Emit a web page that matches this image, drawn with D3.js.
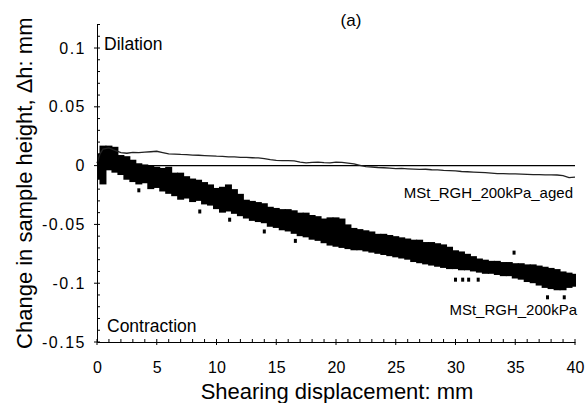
<!DOCTYPE html>
<html><head><meta charset="utf-8">
<script src="https://cdn.jsdelivr.net/npm/d3@7"></script>
<style>body{margin:0;background:#fff}svg{display:block;font-family:"Liberation Sans",Arial,sans-serif}</style>
</head><body>
<script>
// ---- data ----
const xTicks = [0,5,10,15,20,25,30,35,40];
const yTicks = [-0.15,-0.1,-0.05,0,0.05,0.1];
const yTickLabels = ["-0.15","-0.1","-0.05","0","0.05","0.1"];

// MSt_RGH_200kPa_aged (line)
const agedX = [0,0.25,0.5,1,1.5,2,2.5,3,3.5,4,4.5,5,5.5,6,6.5,7,7.5,8,8.5,9,9.5,10,10.5,11,11.5,12,12.5,13,13.5,14,14.5,15,15.5,16,16.5,17,17.5,18,18.5,19,19.5,20,20.5,21,21.5,22,22.5,23,23.5,24,24.5,25,25.5,26,26.5,27,27.5,28,28.5,29,29.5,30,30.5,31,31.5,32,32.5,33,33.5,34,34.5,35,35.5,36,36.5,37,37.5,38,38.5,39,39.5,40];
const agedY = [0.002,0.010,0.014,0.015,0.013,0.011,0.0105,0.0113,0.011,0.0115,0.0118,0.0122,0.011,0.0099,0.0098,0.0095,0.0094,0.009,0.0088,0.0085,0.0083,0.008,0.0079,0.0075,0.0074,0.007,0.007,0.0067,0.0065,0.006,0.005,0.0045,0.0043,0.0043,0.004,0.003,0.0023,0.0028,0.003,0.0025,0.0023,0.003,0.0028,0.0022,0.0015,0.0003,-0.0008,-0.0012,-0.0016,-0.0018,-0.0022,-0.0025,-0.0024,-0.0027,-0.003,-0.0032,-0.0031,-0.0035,-0.0036,-0.004,-0.0042,-0.0045,-0.005,-0.0052,-0.0055,-0.0058,-0.006,-0.0064,-0.0068,-0.0068,-0.007,-0.0071,-0.0073,-0.0075,-0.0076,-0.0077,-0.0079,-0.0078,-0.008,-0.0085,-0.0102,-0.0098];

// MSt_RGH_200kPa (dense scatter): band of points read as top / bottom per 0.5 mm
const bandX = [0,0.5,1,1.5,2,2.5,3,3.5,4,4.5,5,5.5,6,6.5,7,7.5,8,8.5,9,9.5,10,10.5,11,11.5,12,12.5,13,13.5,14,14.5,15,15.5,16,16.5,17,17.5,18,18.5,19,19.5,20,20.5,21,21.5,22,22.5,23,23.5,24,24.5,25,25.5,26,26.5,27,27.5,28,28.5,29,29.5,30,30.5,31,31.5,32,32.5,33,33.5,34,34.5,35,35.5,36,36.5,37,37.5,38,38.5,39,39.5,40];
const bandTop = [0.010,0.017,0.017,0.016,0.009,0.008,0.005,0.002,0.001,0.000,-0.001,-0.002,-0.001,-0.006,-0.006,-0.009,-0.011,-0.012,-0.014,-0.016,-0.019,-0.018,-0.016,-0.020,-0.024,-0.029,-0.030,-0.031,-0.032,-0.035,-0.036,-0.037,-0.037,-0.038,-0.040,-0.040,-0.042,-0.043,-0.045,-0.044,-0.044,-0.045,-0.050,-0.053,-0.054,-0.055,-0.056,-0.058,-0.058,-0.059,-0.060,-0.061,-0.062,-0.063,-0.063,-0.065,-0.065,-0.066,-0.067,-0.069,-0.072,-0.073,-0.075,-0.077,-0.079,-0.080,-0.081,-0.081,-0.082,-0.082,-0.083,-0.083,-0.084,-0.084,-0.085,-0.086,-0.087,-0.088,-0.090,-0.091,-0.092];
const bandBot = [-0.012,-0.016,-0.004,-0.006,-0.008,-0.012,-0.014,-0.016,-0.015,-0.020,-0.019,-0.022,-0.024,-0.026,-0.029,-0.028,-0.031,-0.030,-0.033,-0.034,-0.037,-0.040,-0.039,-0.041,-0.043,-0.045,-0.047,-0.048,-0.049,-0.052,-0.053,-0.055,-0.056,-0.058,-0.060,-0.061,-0.063,-0.064,-0.066,-0.068,-0.069,-0.070,-0.071,-0.072,-0.072,-0.073,-0.074,-0.075,-0.076,-0.077,-0.078,-0.079,-0.080,-0.082,-0.083,-0.084,-0.085,-0.086,-0.087,-0.088,-0.088,-0.089,-0.089,-0.090,-0.091,-0.092,-0.092,-0.093,-0.094,-0.094,-0.096,-0.097,-0.099,-0.100,-0.102,-0.104,-0.105,-0.106,-0.106,-0.104,-0.103];
const outX = [3.5,8.6,11.1,14.0,16.6,30.0,30.6,31.1,31.9,34.9,37.7,39.1];
const outY = [-0.021,-0.039,-0.046,-0.056,-0.064,-0.097,-0.097,-0.097,-0.097,-0.074,-0.112,-0.112];

const labels = {title:"(a)", xTitle:"Shearing displacement: mm", yTitle:"Change in sample height,  Δh: mm",
  dil:"Dilation", con:"Contraction", s1:"MSt_RGH_200kPa_aged", s2:"MSt_RGH_200kPa"};

// ---- chart ----
const W=586,H=403;
const svg=d3.select("body").append("svg").attr("width",W).attr("height",H);
const x=d3.scaleLinear().domain([0,40]).range([97,575]);
const y=d3.scaleLinear().domain([-0.15,0.12]).range([342,24.5]);

svg.append("defs").append("clipPath").attr("id","pc").append("rect")
  .attr("x",x(0)).attr("y",y(0.12)).attr("width",x(40)-x(0)+1).attr("height",y(-0.15)-y(0.12));

// zero line
svg.append("line").attr("x1",x(0)).attr("x2",x(40)).attr("y1",y(0)).attr("y2",y(0))
  .attr("stroke","#000").attr("stroke-width",1.1);

// scatter band
const g=svg.append("g").attr("clip-path","url(#pc)");
const colW=x(0.5)-x(0);
g.selectAll("rect.b").data(bandX.map((d,i)=>({x:d,t:bandTop[i],b:bandBot[i]}))).enter()
  .append("rect").attr("class","b")
  .attr("x",d=>x(d.x)-colW/2-0.5).attr("width",colW+1)
  .attr("y",d=>y(d.t)).attr("height",d=>y(d.b)-y(d.t)).attr("fill","#000");
g.selectAll("rect.o").data(outX.map((d,i)=>({x:d,y:outY[i]}))).enter()
  .append("rect").attr("class","o")
  .attr("x",d=>x(d.x)-1.5).attr("width",3).attr("y",d=>y(d.y)-2).attr("height",4).attr("fill","#000");

// aged line
svg.append("path").datum(agedX.map((d,i)=>[d,agedY[i]]))
  .attr("d",d3.line().x(d=>x(d[0])).y(d=>y(d[1])))
  .attr("fill","none").attr("stroke","#222").attr("stroke-width",1.3);

// axes
const yAx=d3.axisLeft(y).tickValues(yTicks).tickSize(0).tickFormat((d,i)=>yTickLabels[i]);
const ya=svg.append("g").attr("transform",`translate(${x(0)},0)`).call(yAx);
ya.select(".domain").attr("stroke","#000");
ya.selectAll("text").attr("x",-11).attr("font-size",16).attr("letter-spacing","1.5px")
  .attr("font-family","Liberation Sans, Arial, sans-serif").attr("fill","#000");
// y ticks
const yMinor=d3.range(-15,13).map(v=>v/100);
svg.append("g").selectAll("line").data(yMinor).enter().append("line")
  .attr("x1",d=>yTicks.some(t=>Math.abs(t-d)<1e-9)?x(0)-3:x(0)).attr("x2",x(0)+3)
  .attr("y1",d=>y(d)).attr("y2",d=>y(d)).attr("stroke","#000");

const xAx=d3.axisBottom(x).tickValues(xTicks).tickSize(0).tickFormat(d3.format("d"));
const xa=svg.append("g").attr("transform",`translate(0,${y(-0.15)})`).call(xAx);
xa.select(".domain").attr("stroke","#000");
xa.selectAll("text").attr("y",20).attr("font-size",16).attr("font-family","Liberation Sans, Arial, sans-serif").attr("fill","#000");
const xMinor=d3.range(0,41);
svg.append("g").selectAll("line").data(xMinor).enter().append("line")
  .attr("x1",d=>x(d)).attr("x2",d=>x(d))
  .attr("y1",y(-0.15)-3).attr("y2",d=>d%5===0?y(-0.15)+3:y(-0.15)).attr("stroke","#000");

// titles
svg.append("text").attr("x",(x(0)+x(40))/2+1).attr("y",399).attr("text-anchor","middle")
  .attr("font-size",22).text(labels.xTitle);
svg.append("text").attr("transform",`translate(32,${(y(-0.15)+y(0.12))/2}) rotate(-90)`)
  .attr("text-anchor","middle").attr("font-size",22).text(labels.yTitle);
svg.append("text").attr("x",351).attr("y",26).attr("text-anchor","middle").attr("font-size",17).text(labels.title);
svg.append("text").attr("x",104).attr("y",50).attr("font-size",17.5).text(labels.dil);
svg.append("text").attr("x",107).attr("y",332).attr("font-size",17.5).text(labels.con);
svg.append("text").attr("x",573).attr("y",198).attr("text-anchor","end").attr("font-size",15).text(labels.s1);
svg.append("text").attr("x",577).attr("y",315).attr("text-anchor","end").attr("font-size",15).text(labels.s2);
</script>
</body></html>
